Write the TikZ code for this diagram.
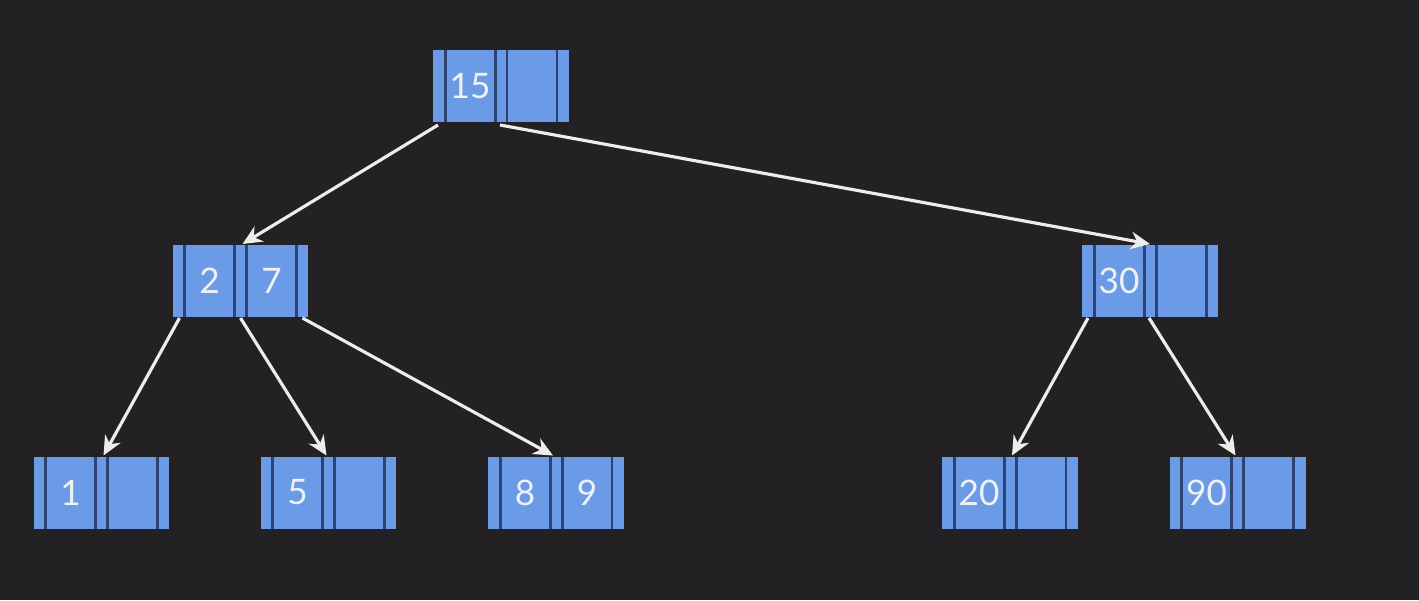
\documentclass[tikz,border=0pt]{standalone}
\usepackage{fontspec}
\setmainfont{Lato}
\usepackage{xcolor}
\usepackage{tikz}
\usetikzlibrary{arrows.meta, positioning, calc}
\definecolor{bgdark}{HTML}{232124}
\definecolor{cellblue}{HTML}{6B9BE6}
\definecolor{divnavy}{HTML}{2C4470}
\definecolor{keywhite}{HTML}{EEF1F6}
\definecolor{ptrgray}{HTML}{EDEDED}
% key cells of a b-tree node: strip | key | strip | key | strip
\newcommand{\keycells}[2]{%
  \raisebox{-0.06cm}{\hspace*{0.24cm}\makebox[1cm]{#1}\hspace*{0.24cm}\makebox[1cm]{#2}\hspace*{0.24cm}}}
\tikzset{
    btnode/.style={rectangle, fill=cellblue, inner sep=0pt, outer sep=0pt,
                   minimum width=2.72cm, minimum height=1.44cm,
                   text=keywhite, font=\fontsize{20}{24}\selectfont,
                   path picture={
                     \foreach \xd in {0.24,1.24,1.48,2.48}
                       \draw[divnavy, line width=1.7pt]
                         ([xshift=\xd cm]path picture bounding box.south west) --
                         ([xshift=\xd cm]path picture bounding box.north west);
                   }},
    ptr/.style={-{Stealth[length=11pt, width=10pt]}, line width=1.8pt, draw=ptrgray}
}

\begin{document}
\begin{tikzpicture}[x=0.02cm, y=-0.02cm]
% ── Canvas ────────────────────────────────────────────────────────────
\fill[bgdark] (0,0) rectangle (1419,600);
\useasboundingbox (0,0) rectangle (1419,600);

% ── Root ──────────────────────────────────────────────────────────────
\node[btnode] at (501,86) (root) {\keycells{15}{}};

% ── Level 1 ───────────────────────────────────────────────────────────
\node[btnode] at (240.5,281) (n27) {\keycells{2}{7}};
\node[btnode] at (1150,281)  (n30) {\keycells{30}{}};

% ── Leaves ────────────────────────────────────────────────────────────
\node[btnode] at (101.5,492.5) (n1)  {\keycells{1}{}};
\node[btnode] at (328.5,492.5) (n5)  {\keycells{5}{}};
\node[btnode] at (556,492.5)   (n89) {\keycells{8}{9}};
\node[btnode] at (1010,492.5)  (n20) {\keycells{20}{}};
\node[btnode] at (1237.5,492.5)(n90) {\keycells{90}{}};

% ── Pointers from root ────────────────────────────────────────────────
\draw[ptr] ($(root.south west)+(5,3)$) -- ($(n27.north)+(2,-1)$);
\draw[ptr] ($(root.south)+(-1,3)$)     -- ($(n30.north)+(0,-1)$);

% ── Pointers from 2|7 ─────────────────────────────────────────────────
\draw[ptr] ($(n27.south west)+(7,1)$)  -- ($(n1.north)+(2,-1)$);
\draw[ptr] ($(n27.south)+(0,1)$)       -- ($(n5.north)+(-2,-1)$);
\draw[ptr] ($(n27.south east)+(-6,1)$) -- ($(n89.north)+(-3,-1)$);

% ── Pointers from 30 ──────────────────────────────────────────────────
\draw[ptr] ($(n30.south west)+(6,1)$)  -- ($(n20.north)+(2,-1)$);
\draw[ptr] ($(n30.south)+(-1,1)$)      -- ($(n90.north)+(-2,-1)$);
\end{tikzpicture}
\end{document}
